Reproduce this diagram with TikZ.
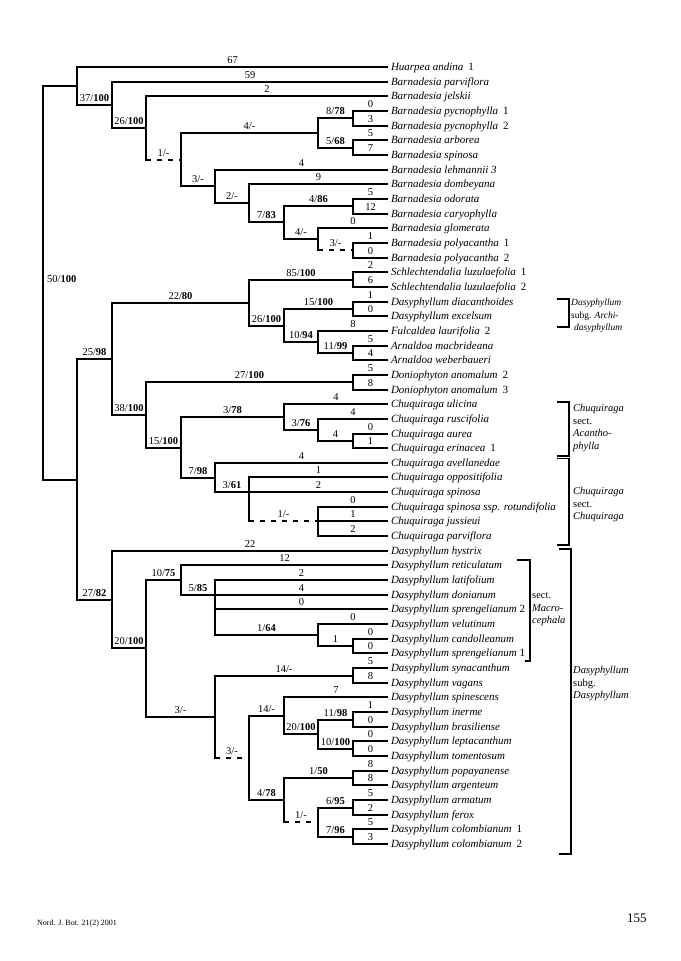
\documentclass[tikz,border=0pt]{standalone}
\usepackage{fontspec}
\setmainfont{Liberation Serif}
\newcommand{\sfx}[1]{\hspace{0.45em}\textup{#1}}
\begin{document}
\begin{tikzpicture}[x=1pt,y=-1pt,
 edge/.style={line width=2pt},
 dsh/.style={line width=2pt, dash pattern=on 5pt off 6pt},
 lab/.style={pos=0.75, anchor=south, inner sep=2.6pt, text depth=0pt, font=\fontsize{10.5}{12}\selectfont},
 labm/.style={pos=0.5, anchor=south, inner sep=2.6pt, text depth=0pt, font=\fontsize{10.5}{12}\selectfont},
 tip/.style={anchor=west, inner xsep=2.8pt, inner ysep=0pt, text height=8pt, text depth=2pt, font=\fontsize{11}{13}\selectfont\itshape},
 brk/.style={line width=1.4pt},
 grp/.style={anchor=base west, inner sep=0pt, font=\fontsize{10.5}{12}\selectfont},
 grps/.style={anchor=base west, inner sep=0pt, font=\fontsize{9.5}{11}\selectfont}]
\useasboundingbox (0,0) rectangle (680,961);
\fill[white] (0,0) rectangle (680,961);

% ---------- tips ----------
\node[tip] (t1) at (388,67) {Huarpea andina\sfx{1}};
\node[tip] (t2) at (388,82) {Barnadesia parviflora};
\node[tip] (t3) at (388,96) {Barnadesia jelskii};
\node[tip] (t4) at (388,111) {Barnadesia pycnophylla\sfx{1}};
\node[tip] (t5) at (388,126) {Barnadesia pycnophylla\sfx{2}};
\node[tip] (t6) at (388,140) {Barnadesia arborea};
\node[tip] (t7) at (388,155) {Barnadesia spinosa};
\node[tip] (t8) at (388,170) {Barnadesia lehmannii 3};
\node[tip] (t9) at (388,184) {Barnadesia dombeyana};
\node[tip] (t10) at (388,199) {Barnadesia odorata};
\node[tip] (t11) at (388,214) {Barnadesia caryophylla};
\node[tip] (t12) at (388,228) {Barnadesia glomerata};
\node[tip] (t13) at (388,243) {Barnadesia polyacantha\sfx{1}};
\node[tip] (t14) at (388,258) {Barnadesia polyacantha\sfx{2}};
\node[tip] (t15) at (388,272) {Schlechtendalia luzulaefolia\sfx{1}};
\node[tip] (t16) at (388,287) {Schlechtendalia luzulaefolia\sfx{2}};
\node[tip] (t17) at (388,302) {Dasyphyllum diacanthoides};
\node[tip] (t18) at (388,316) {Dasyphyllum excelsum};
\node[tip] (t19) at (388,331) {Fulcaldea laurifolia\sfx{2}};
\node[tip] (t20) at (388,346) {Arnaldoa macbrideana};
\node[tip] (t21) at (388,360) {Arnaldoa weberbaueri};
\node[tip] (t22) at (388,375) {Doniophyton anomalum\sfx{2}};
\node[tip] (t23) at (388,390) {Doniophyton anomalum\sfx{3}};
\node[tip] (t24) at (388,404) {Chuquiraga ulicina};
\node[tip] (t25) at (388,419) {Chuquiraga ruscifolia};
\node[tip] (t26) at (388,434) {Chuquiraga aurea};
\node[tip] (t27) at (388,448) {Chuquiraga erinacea\sfx{1}};
\node[tip] (t28) at (388,463) {Chuquiraga avellanedae};
\node[tip] (t29) at (388,477) {Chuquiraga oppositifolia};
\node[tip] (t30) at (388,492) {Chuquiraga spinosa};
\node[tip] (t31) at (388,507) {Chuquiraga spinosa ssp. rotundifolia};
\node[tip] (t32) at (388,521) {Chuquiraga jussieui};
\node[tip] (t33) at (388,536) {Chuquiraga parviflora};
\node[tip] (t34) at (388,551) {Dasyphyllum hystrix};
\node[tip] (t35) at (388,565) {Dasyphyllum reticulatum};
\node[tip] (t36) at (388,580) {Dasyphyllum latifolium};
\node[tip] (t37) at (388,595) {Dasyphyllum donianum};
\node[tip] (t38) at (388,609) {Dasyphyllum sprengelianum \textup{2}};
\node[tip] (t39) at (388,624) {Dasyphyllum velutinum};
\node[tip] (t40) at (388,639) {Dasyphyllum candolleanum};
\node[tip] (t41) at (388,653) {Dasyphyllum sprengelianum \textup{1}};
\node[tip] (t42) at (388,668) {Dasyphyllum synacanthum};
\node[tip] (t43) at (388,683) {Dasyphyllum vagans};
\node[tip] (t44) at (388,697) {Dasyphyllum spinescens};
\node[tip] (t45) at (388,712) {Dasyphyllum inerme};
\node[tip] (t46) at (388,727) {Dasyphyllum brasiliense};
\node[tip] (t47) at (388,741) {Dasyphyllum leptacanthum};
\node[tip] (t48) at (388,756) {Dasyphyllum tomentosum};
\node[tip] (t49) at (388,771) {Dasyphyllum popayanense};
\node[tip] (t50) at (388,785) {Dasyphyllum argenteum};
\node[tip] (t51) at (388,800) {Dasyphyllum armatum};
\node[tip] (t52) at (388,815) {Dasyphyllum ferox};
\node[tip] (t53) at (388,829) {Dasyphyllum colombianum\sfx{1}};
\node[tip] (t54) at (388,844) {Dasyphyllum colombianum\sfx{2}};

% ---------- internal nodes ----------
\coordinate (root) at (43,283);
\coordinate (A) at (77,86);
\coordinate (B) at (112,105);
\coordinate (C) at (146,128);
\coordinate (D) at (181,160);
\coordinate (E) at (318,133);
\coordinate (F) at (353,118);
\coordinate (G) at (353,148);
\coordinate (H) at (215,186);
\coordinate (I) at (249,203);
\coordinate (J) at (284,222);
\coordinate (K) at (353,206);
\coordinate (L) at (318,239);
\coordinate (M) at (353,250);
\coordinate (N) at (77,480);
\coordinate (O) at (112,359);
\coordinate (P) at (249,303);
\coordinate (Q) at (353,280);
\coordinate (R) at (284,326);
\coordinate (S) at (353,309);
\coordinate (T) at (318,342);
\coordinate (U) at (353,353);
\coordinate (V) at (146,415);
\coordinate (W) at (353,382);
\coordinate (X) at (181,448);
\coordinate (Y) at (284,417);
\coordinate (Z) at (318,430);
\coordinate (AA) at (353,441);
\coordinate (AB) at (215,478);
\coordinate (AC) at (249,492);
\coordinate (AD) at (318,521);
\coordinate (AE) at (112,600);
\coordinate (AF) at (146,648);
\coordinate (AG) at (181,580);
\coordinate (AH) at (215,595);
\coordinate (AI) at (318,635);
\coordinate (AJ) at (353,646);
\coordinate (AK) at (215,717);
\coordinate (AL) at (353,676);
\coordinate (AM) at (249,758);
\coordinate (AN) at (284,716);
\coordinate (AO) at (318,734);
\coordinate (AP) at (353,720);
\coordinate (AQ) at (353,749);
\coordinate (AR) at (284,800);
\coordinate (AS) at (353,778);
\coordinate (AT) at (318,822);
\coordinate (AU) at (353,808);
\coordinate (AV) at (353,837);

% ---------- edges ----------
\draw[edge] (root) |- (A);
\draw[edge] (root) |- (N);
\node[anchor=west, inner sep=0pt, font=\fontsize{10.5}{12}\selectfont] (rootlab) at (47,279) {50/\textbf{100}};

\draw[edge] (A) |- node[lab]{67} (t1.west);
\draw[edge] (A) |- node[lab]{37/\textbf{100}} (B);
\draw[edge] (B) |- node[lab]{59} (t2.west);
\draw[edge] (B) |- node[lab]{26/\textbf{100}} (C);
\draw[edge] (C) |- node[lab]{2} (t3.west);
\draw[edge, line cap=rect] (C) -- (C|-D);
\draw[dsh] (C|-D) -- node[labm]{1/-} (D);
\draw[edge] (D) |- node[lab]{4/-} (E);
\draw[edge] (D) |- node[lab]{3/-} (H);
\draw[edge] (E) |- node[lab]{8/\textbf{78}} (F);
\draw[edge] (E) |- node[lab]{5/\textbf{68}} (G);
\draw[edge] (F) |- node[lab]{0} (t4.west);
\draw[edge] (F) |- node[lab]{3} (t5.west);
\draw[edge] (G) |- node[lab]{5} (t6.west);
\draw[edge] (G) |- node[lab]{7} (t7.west);
\draw[edge] (H) |- node[lab]{4} (t8.west);
\draw[edge] (H) |- node[lab]{2/-} (I);
\draw[edge] (I) |- node[lab]{9} (t9.west);
\draw[edge] (I) |- node[lab]{7/\textbf{83}} (J);
\draw[edge] (J) |- node[lab]{4/\textbf{86}} (K);
\draw[edge] (J) |- node[lab]{4/-} (L);
\draw[edge] (K) |- node[lab]{5} (t10.west);
\draw[edge] (K) |- node[lab]{12} (t11.west);
\draw[edge] (L) |- node[lab]{0} (t12.west);
\draw[edge, line cap=rect] (L) -- (L|-M);
\draw[dsh] (L|-M) -- node[labm]{3/-} (M);
\draw[edge] (M) |- node[lab]{1} (t13.west);
\draw[edge] (M) |- node[lab]{0} (t14.west);

\draw[edge] (N) |- node[lab]{25/\textbf{98}} (O);
\draw[edge] (N) |- node[lab]{27/\textbf{82}} (AE);
\draw[edge] (O) |- node[lab]{22/\textbf{80}} (P);
\draw[edge] (O) |- node[lab]{38/\textbf{100}} (V);
\draw[edge] (P) |- node[lab]{85/\textbf{100}} (Q);
\draw[edge] (P) |- node[lab]{26/\textbf{100}} (R);
\draw[edge] (Q) |- node[lab]{2} (t15.west);
\draw[edge] (Q) |- node[lab]{6} (t16.west);
\draw[edge] (R) |- node[lab]{15/\textbf{100}} (S);
\draw[edge] (R) |- node[lab]{10/\textbf{94}} (T);
\draw[edge] (S) |- node[lab]{1} (t17.west);
\draw[edge] (S) |- node[lab]{0} (t18.west);
\draw[edge] (T) |- node[lab]{8} (t19.west);
\draw[edge] (T) |- node[lab]{11/\textbf{99}} (U);
\draw[edge] (U) |- node[lab]{5} (t20.west);
\draw[edge] (U) |- node[lab]{4} (t21.west);
\draw[edge] (V) |- node[lab]{27/\textbf{100}} (W);
\draw[edge] (V) |- node[lab]{15/\textbf{100}} (X);
\draw[edge] (W) |- node[lab]{5} (t22.west);
\draw[edge] (W) |- node[lab]{8} (t23.west);
\draw[edge] (X) |- node[lab]{3/\textbf{78}} (Y);
\draw[edge] (X) |- node[lab]{7/\textbf{98}} (AB);
\draw[edge] (Y) |- node[lab]{4} (t24.west);
\draw[edge] (Y) |- node[lab]{3/\textbf{76}} (Z);
\draw[edge] (Z) |- node[lab]{4} (t25.west);
\draw[edge] (Z) |- node[lab]{4} (AA);
\draw[edge] (AA) |- node[lab]{0} (t26.west);
\draw[edge] (AA) |- node[lab]{1} (t27.west);
\draw[edge] (AB) |- node[lab]{4} (t28.west);
\draw[edge] (AB) |- node[lab]{3/\textbf{61}} (AC);
\draw[edge] (AC) |- node[lab]{1} (t29.west);
\draw[edge] (AC) |- node[lab]{2} (t30.west);
\draw[edge, line cap=rect] (AC) -- (AC|-AD);
\draw[dsh] (AC|-AD) -- node[labm]{1/-} (AD);
\draw[edge] (AD) |- node[lab]{0} (t31.west);
\draw[edge] (AD) |- node[lab]{1} (t32.west);
\draw[edge] (AD) |- node[lab]{2} (t33.west);

\draw[edge] (AE) |- node[lab]{22} (t34.west);
\draw[edge] (AE) |- node[lab]{20/\textbf{100}} (AF);
\draw[edge] (AF) |- node[lab]{10/\textbf{75}} (AG);
\draw[edge] (AF) |- node[lab]{3/-} (AK);
\draw[edge] (AG) |- node[lab]{12} (t35.west);
\draw[edge] (AG) |- node[lab]{5/\textbf{85}} (AH);
\draw[edge] (AH) |- node[lab]{2} (t36.west);
\draw[edge] (AH) |- node[lab]{4} (t37.west);
\draw[edge] (AH) |- node[lab]{0} (t38.west);
\draw[edge] (AH) |- node[lab]{1/\textbf{64}} (AI);
\draw[edge] (AI) |- node[lab]{0} (t39.west);
\draw[edge] (AI) |- node[lab]{1} (AJ);
\draw[edge] (AJ) |- node[lab]{0} (t40.west);
\draw[edge] (AJ) |- node[lab]{0} (t41.west);
\draw[edge] (AK) |- node[lab]{14/-} (AL);
\draw[edge, line cap=rect] (AK) -- (AK|-AM);
\draw[dsh] (AK|-AM) -- node[labm]{3/-} (AM);
\draw[edge] (AL) |- node[lab]{5} (t42.west);
\draw[edge] (AL) |- node[lab]{8} (t43.west);
\draw[edge] (AM) |- node[lab]{14/-} (AN);
\draw[edge] (AM) |- node[lab]{4/\textbf{78}} (AR);
\draw[edge] (AN) |- node[lab]{7} (t44.west);
\draw[edge] (AN) |- node[lab]{20/\textbf{100}} (AO);
\draw[edge] (AO) |- node[lab]{11/\textbf{98}} (AP);
\draw[edge] (AO) |- node[lab]{10/\textbf{100}} (AQ);
\draw[edge] (AP) |- node[lab]{1} (t45.west);
\draw[edge] (AP) |- node[lab]{0} (t46.west);
\draw[edge] (AQ) |- node[lab]{0} (t47.west);
\draw[edge] (AQ) |- node[lab]{0} (t48.west);
\draw[edge] (AR) |- node[lab]{1/\textbf{50}} (AS);
\draw[edge, line cap=rect] (AR) -- (AR|-AT);
\draw[dsh] (AR|-AT) -- node[labm]{1/-} (AT);
\draw[edge] (AS) |- node[lab]{8} (t49.west);
\draw[edge] (AS) |- node[lab]{8} (t50.west);
\draw[edge] (AT) |- node[lab]{6/\textbf{95}} (AU);
\draw[edge] (AT) |- node[lab]{7/\textbf{96}} (AV);
\draw[edge] (AU) |- node[lab]{5} (t51.west);
\draw[edge] (AU) |- node[lab]{2} (t52.west);
\draw[edge] (AV) |- node[lab]{5} (t53.west);
\draw[edge] (AV) |- node[lab]{3} (t54.west);

% ---------- brackets ----------
\draw[brk] (557,299) -- (569,299) -- (569,327) -- (557,327);
\node[grps] (g1a) at (571,305.5) {\itshape Dasyphyllum};
\node[grps] (g1b) at (571,318) {subg. \textit{Archi-}};
\node[grps] (g1c) at (574,330.5) {\itshape dasyphyllum};

\draw[brk] (557,402) -- (569,402) -- (569,456) -- (557,456);
\node[grp] (g2a) at (573,411.5) {\itshape Chuquiraga};
\node[grp] (g2b) at (573,424) {sect.};
\node[grp] (g2c) at (573,436.5) {\itshape Acantho-};
\node[grp] (g2d) at (573,449) {\itshape phylla};

\draw[brk] (557,458.5) -- (569,458.5) -- (569,545) -- (557,545);
\node[grp] (g3a) at (573,494.5) {\itshape Chuquiraga};
\node[grp] (g3b) at (573,507) {sect.};
\node[grp] (g3c) at (573,519.5) {\itshape Chuquiraga};

\draw[brk] (517,560) -- (530,560) -- (530,661) -- (525,661);
\node[grp] (g5a) at (532,598.5) {sect.};
\node[grp] (g5b) at (532,611) {\itshape Macro-};
\node[grp] (g5c) at (532,623.5) {\itshape cephala};

\draw[brk] (559,549) -- (571,549) -- (571,854) -- (559,854);
\node[grp] (g4a) at (573,673.5) {\itshape Dasyphyllum};
\node[grp] (g4b) at (573,686) {subg.};
\node[grp] (g4c) at (573,698.5) {\itshape Dasyphyllum};

% ---------- footer ----------
\node[anchor=base west, inner sep=0pt, font=\fontsize{8}{9}\selectfont] (jr) at (37,925) {Nord. J. Bot. 21(2) 2001};
\node[anchor=base west, inner sep=0pt, font=\fontsize{13}{14}\selectfont] (pg) at (627,922) {155};
\end{tikzpicture}
\end{document}
